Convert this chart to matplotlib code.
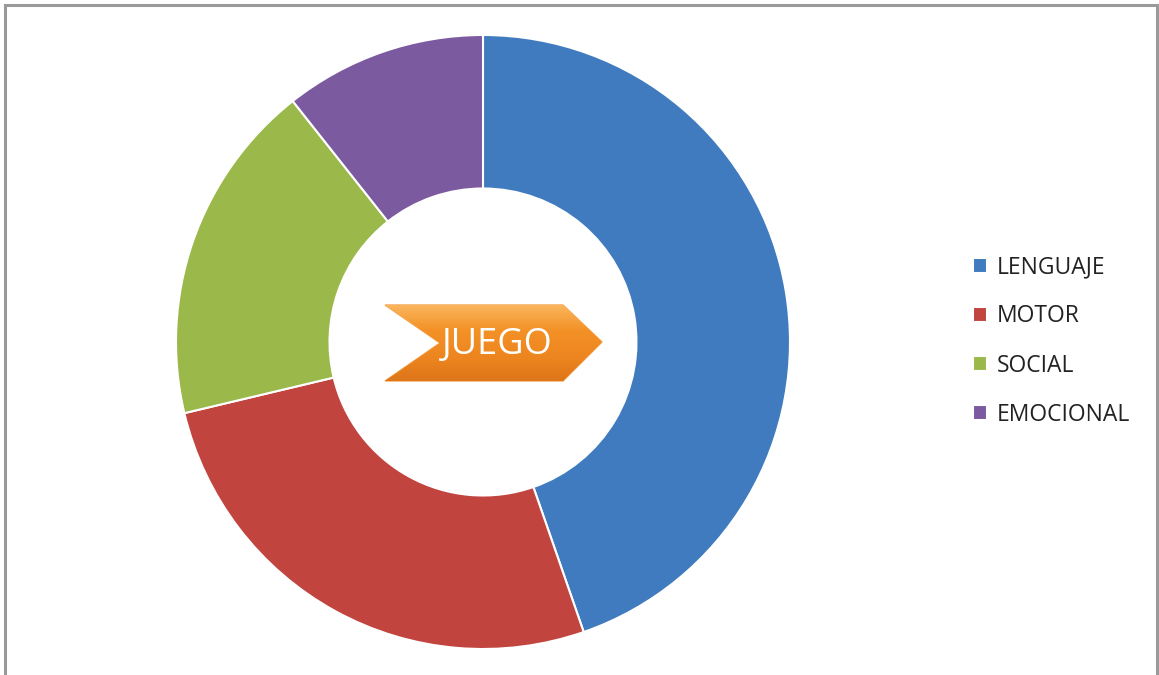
import matplotlib
matplotlib.use("Agg")
import matplotlib.pyplot as plt
import numpy as np
from matplotlib.lines import Line2D
from matplotlib.patches import Polygon

categories = ["LENGUAJE", "MOTOR", "SOCIAL", "EMOCIONAL"]
values = [42, 25, 17, 10]
colors = ["#3F7BBE", "#C1443F", "#9AB94A", "#7B5AA0"]
center_label = "JUEGO"

W, H = 1159, 675
fig = plt.figure(figsize=(W / 100, H / 100), dpi=100)
fig.patch.set_facecolor("white")

# donut axes: center (483, 342) px, outer radius 307 px
cx, cy, r = 483, 342, 307
ax = fig.add_axes([(cx - r) / W, (H - cy - r) / H, 2 * r / W, 2 * r / H])
wedges, _ = ax.pie(
    values,
    colors=colors,
    startangle=90,
    counterclock=False,
    radius=1.0,
    wedgeprops=dict(width=0.5, edgecolor="white", linewidth=1.5),
)
ax.set_xlim(-1, 1)
ax.set_ylim(-1, 1)
ax.set_aspect("equal")
ax.axis("off")

ax.legend(
    wedges,
    categories,
    loc="center left",
    bbox_to_anchor=(952 / W, (H - 341) / H),
    bbox_transform=fig.transFigure,
    frameon=False,
    handlelength=0.62,
    handleheight=0.62,
    handletextpad=0.45,
    labelspacing=1.1,
    prop=dict(family="Open Sans", size=16.5),
    labelcolor="#222222",
)

# arrow label in the hole, drawn in pixel coordinates
ov = fig.add_axes([0, 0, 1, 1], zorder=5)
ov.set_xlim(0, W)
ov.set_ylim(H, 0)
ov.axis("off")
pts = [(385, 305), (563, 305), (602, 342), (563, 381), (385, 381), (440, 343)]
shape = Polygon(pts, closed=True, facecolor="none", edgecolor="#F5A550", linewidth=1.0)
ov.add_patch(shape)
grad = np.linspace(0, 1, 100).reshape(-1, 1)
img = ov.imshow(
    grad,
    extent=(385, 602, 381, 305),
    cmap=matplotlib.colors.LinearSegmentedColormap.from_list(
        "org", ["#FAB55C", "#F39126", "#EE8620", "#DE761A"]
    ),
    aspect="auto",
    zorder=1,
)
img.set_clip_path(shape)
ov.set_xlim(0, W)
ov.set_ylim(H, 0)
ov.text(497, 345, center_label, color="white", fontsize=26, family="Open Sans",
        ha="center", va="center", zorder=3)

# chart frame
for xs, ys in [((5, 5), (5, H)), ((5, 1157), (5, 5)), ((1157, 1157), (5, H))]:
    fig.add_artist(Line2D([x / W for x in xs], [1 - y / H for y in ys],
                          color="#9A9A9A", linewidth=2.2))

fig.savefig("out.png", dpi=100)
